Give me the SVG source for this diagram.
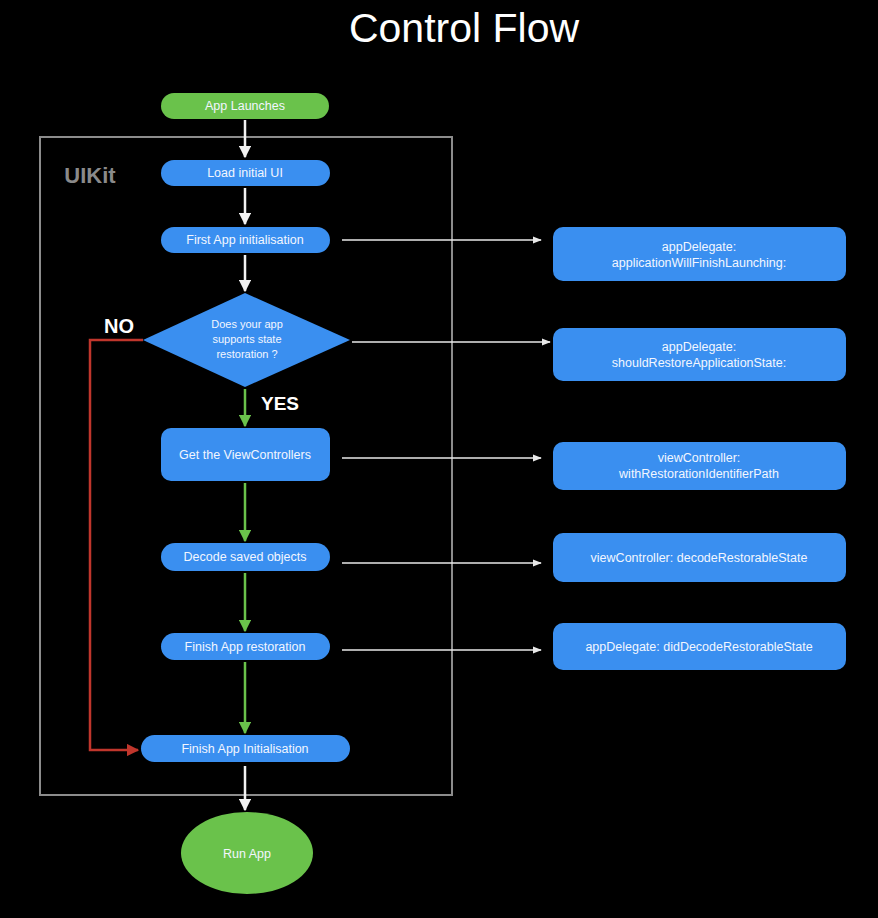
<svg xmlns="http://www.w3.org/2000/svg" width="878" height="918" viewBox="0 0 878 918">
<style>
text{font-family:"Liberation Sans",Arial,sans-serif;fill:#fff;text-anchor:middle}
.t{font-size:12.5px;fill:#f2f6ff}
.blue{fill:#3a8ff0}
.green{fill:#6ac24b}
.w{stroke:#e8e8e8;stroke-width:1.5;fill:none}
.wb{stroke:#f2f2f2;stroke-width:2.5;fill:none}
.g{stroke:#6ac24b;stroke-width:2.5;fill:none}
.r{stroke:#c0362c;stroke-width:2.5;fill:none}
.lbl{font-size:19px;font-weight:bold}
</style>
<defs>
<marker id="aw" viewBox="0 0 10 10" refX="9" refY="5" markerWidth="5" markerHeight="5" orient="auto" markerUnits="strokeWidth"><path d="M0,0L10,5L0,10z" fill="#f2f2f2"/></marker>
<marker id="aws" viewBox="0 0 10 10" refX="9" refY="5" markerWidth="6" markerHeight="6" orient="auto" markerUnits="strokeWidth"><path d="M0,1L10,5L0,9z" fill="#e8e8e8"/></marker>
<marker id="ag" viewBox="0 0 10 10" refX="9" refY="5" markerWidth="5" markerHeight="5" orient="auto" markerUnits="strokeWidth"><path d="M0,0L10,5L0,10z" fill="#6ac24b"/></marker>
<marker id="ar" viewBox="0 0 10 10" refX="9" refY="5" markerWidth="5" markerHeight="5" orient="auto" markerUnits="strokeWidth"><path d="M0,0L10,5L0,10z" fill="#c0362c"/></marker>
</defs>
<rect width="878" height="918" fill="#000"/>
<text x="464" y="42" style="font-size:41px">Control Flow</text>
<g id="uikit">
<rect x="40" y="137" width="412" height="658" fill="none" stroke="#8c8c8c" stroke-width="2"/>
<text x="90" y="183" style="font-size:22px;font-weight:bold;fill:#8a8a8a">UIKit</text>
</g>
<g id="connectors">
<path class="wb" d="M245,120V157" marker-end="url(#aw)"/>
<path class="wb" d="M245,188V224" marker-end="url(#aw)"/>
<path class="wb" d="M245,255V291" marker-end="url(#aw)"/>
<path class="g" d="M245,389V426" marker-end="url(#ag)"/>
<path class="g" d="M245,483V541" marker-end="url(#ag)"/>
<path class="g" d="M245,573V631" marker-end="url(#ag)"/>
<path class="g" d="M245,662V733" marker-end="url(#ag)"/>
<path class="wb" d="M245,766V810" marker-end="url(#aw)"/>
<path class="r" d="M143,340H90V750H138" marker-end="url(#ar)"/>
<path class="w" d="M342,240H541" marker-end="url(#aws)"/>
<path class="w" d="M352,342H550" marker-end="url(#aws)"/>
<path class="w" d="M342,458H541" marker-end="url(#aws)"/>
<path class="w" d="M342,563H541" marker-end="url(#aws)"/>
<path class="w" d="M342,650H541" marker-end="url(#aws)"/>
<text class="lbl" x="119" y="333" style="font-size:20px">NO</text>
<text class="lbl" x="280" y="410">YES</text>
</g>
<g id="app-launches"><rect class="green" x="161" y="93" width="168" height="26" rx="13"/><text class="t" x="245" y="110">App Launches</text></g>
<g id="load-ui"><rect class="blue" x="161" y="160" width="169" height="26" rx="13"/><text class="t" x="245" y="177">Load initial UI</text></g>
<g id="first-init"><rect class="blue" x="161" y="227" width="169" height="26" rx="13"/><text class="t" x="245" y="244">First App initialisation</text></g>
<g id="decision"><polygon class="blue" points="245,293 350,340 245,387 143,340"/>
<text class="t" x="247" y="328" style="font-size:11px">Does your app</text>
<text class="t" x="247" y="343" style="font-size:11px">supports state</text>
<text class="t" x="247" y="358" style="font-size:11px">restoration ?</text></g>
<g id="get-vc"><rect class="blue" x="161" y="428" width="169" height="53" rx="10"/><text class="t" x="245" y="459">Get the ViewControllers</text></g>
<g id="decode"><rect class="blue" x="161" y="543" width="169" height="28" rx="14"/><text class="t" x="245" y="561">Decode saved objects</text></g>
<g id="finish-restore"><rect class="blue" x="161" y="633" width="169" height="27" rx="13.5"/><text class="t" x="245" y="651">Finish App restoration</text></g>
<g id="finish-init"><rect class="blue" x="141" y="735" width="209" height="27" rx="13.5"/><text class="t" x="245" y="753">Finish App Initialisation</text></g>
<g id="run-app"><ellipse class="green" cx="247" cy="853" rx="66" ry="41"/><text class="t" x="247" y="858">Run App</text></g>
<g id="will-finish"><rect class="blue" x="553" y="227" width="293" height="54" rx="10"/><text class="t" x="699" y="251">appDelegate:</text><text class="t" x="699" y="267">applicationWillFinishLaunching:</text></g>
<g id="should-restore"><rect class="blue" x="553" y="328" width="293" height="53" rx="10"/><text class="t" x="699" y="351">appDelegate:</text><text class="t" x="699" y="367">shouldRestoreApplicationState:</text></g>
<g id="with-path"><rect class="blue" x="553" y="442" width="293" height="48" rx="10"/><text class="t" x="699" y="462">viewController:</text><text class="t" x="699" y="478">withRestorationIdentifierPath</text></g>
<g id="decode-state"><rect class="blue" x="553" y="533" width="293" height="49" rx="10"/><text class="t" x="699" y="562">viewController: decodeRestorableState</text></g>
<g id="did-decode"><rect class="blue" x="553" y="623" width="293" height="47" rx="10"/><text class="t" x="699" y="651">appDelegate: didDecodeRestorableState</text></g>
</svg>
